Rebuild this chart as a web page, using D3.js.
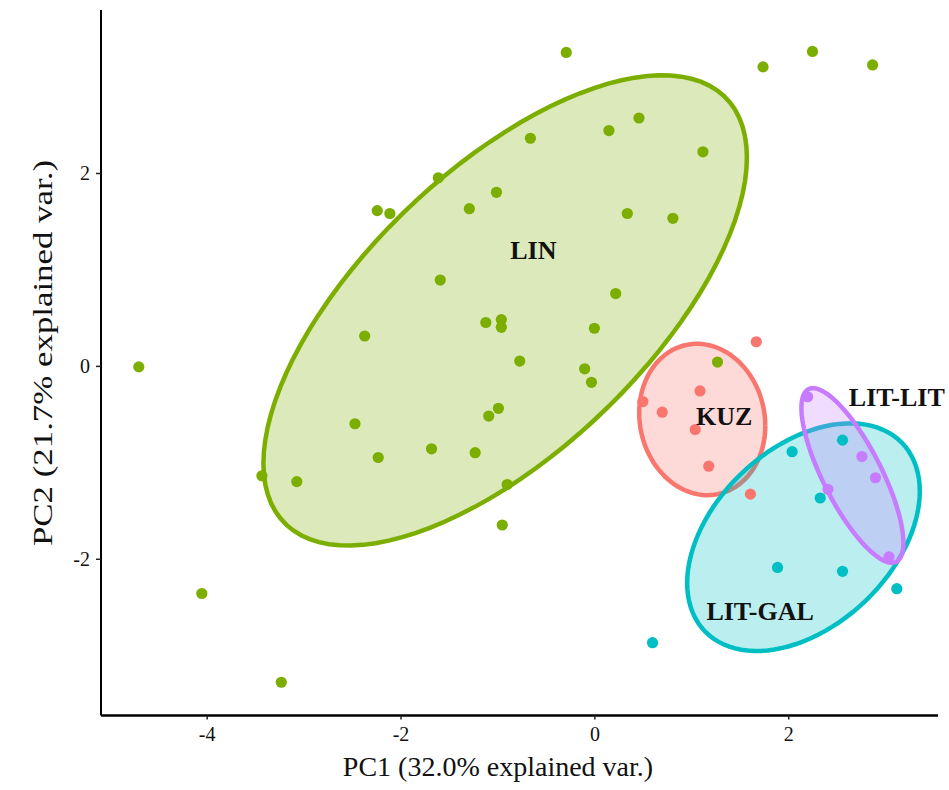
<!DOCTYPE html>
<html>
<head>
<meta charset="utf-8">
<script src="https://cdn.jsdelivr.net/npm/d3@7"></script>
<style>
  body { margin: 0; background: #fff; }
  svg { display: block; }
  text { font-family: "Liberation Serif", "Times New Roman", serif; }
</style>
</head>
<body>
<svg id="chart" width="949" height="790"></svg>
<script>
// PCA scores (PC1, PC2) by population
const groups = ["KUZ", "LIN", "LIT-GAL", "LIT-LIT"];
const colors = ["#F8766D", "#7CAE00", "#00BFC4", "#C77CFF"];

const linPC1 = [-0.29, 1.74, 2.25, 2.87, -0.66, 0.15, 0.46, 1.12, -1.61, -1.01, -2.24, -2.11, -1.29, 0.34, 0.81,
                -1.59, 0.22, -1.12, -0.96, -0.96, 0.00, -2.37, -0.77, -0.10, -0.03, -4.70, 1.27, -0.99, -1.09,
                -2.47, -1.68, -2.23, -1.23, -3.43, -3.07, -0.90, -0.95, -4.05, -3.23];
const linPC2 = [3.25, 3.10, 3.26, 3.12, 2.36, 2.44, 2.57, 2.22, 1.95, 1.80, 1.61, 1.58, 1.63, 1.58, 1.53,
                0.89, 0.75, 0.45, 0.48, 0.40, 0.39, 0.31, 0.05, -0.03, -0.17, -0.01, 0.04, -0.44, -0.52,
                -0.60, -0.86, -0.95, -0.90, -1.14, -1.20, -1.23, -1.65, -2.36, -3.28];

const kuzPC1 = [1.67, 1.09, 0.50, 0.70, 1.04, 1.18, 1.61];
const kuzPC2 = [0.25, -0.26, -0.37, -0.48, -0.66, -1.04, -1.33];

const galPC1 = [2.56, 2.04, 2.33, 1.89, 2.56, 3.12, 0.60];
const galPC2 = [-0.77, -0.89, -1.37, -2.09, -2.13, -2.31, -2.87];

const litPC1 = [2.20, 2.76, 2.90, 2.41, 3.04];
const litPC2 = [-0.32, -0.94, -1.16, -1.28, -1.98];

// label anchor positions in PC space
const labelPC1 = [1.34, -0.63, 1.71, 3.12];
const labelPC2 = [-0.52, 1.20, -2.55, -0.33];

const xTicks = [-4, -2, 0, 2];
const yTicks = [-2, 0, 2];
const xTitle = "PC1 (32.0% explained var.)";
const yTitle = "PC2 (21.7% explained var.)";

const ellipseProb = 0.68;

const svg = d3.select("#chart");
const x = d3.scaleLinear().domain([-5.09, 3.545]).range([101, 938]);
const y = d3.scaleLinear().domain([-3.625, 3.69]).range([715.5, 10]);

const series = [
  { g: "KUZ", xs: kuzPC1, ys: kuzPC2 },
  { g: "LIN", xs: linPC1, ys: linPC2 },
  { g: "LIT-GAL", xs: galPC1, ys: galPC2 },
  { g: "LIT-LIT", xs: litPC1, ys: litPC2 }
];
const color = d3.scaleOrdinal().domain(groups).range(colors);

// normal-theory data ellipse (covariance, chi-square radius)
function ellipse(xs, ys, prob) {
  const n = xs.length;
  const mx = d3.mean(xs), my = d3.mean(ys);
  let sxx = 0, syy = 0, sxy = 0;
  for (let i = 0; i < n; i++) {
    sxx += (xs[i] - mx) ** 2;
    syy += (ys[i] - my) ** 2;
    sxy += (xs[i] - mx) * (ys[i] - my);
  }
  sxx /= n - 1; syy /= n - 1; sxy /= n - 1;
  // Cholesky (upper) of the covariance
  const a = Math.sqrt(sxx), b = sxy / a, c = Math.sqrt(syy - b * b);
  const r = Math.sqrt(-2 * Math.log(1 - prob));
  return d3.range(0, 101).map(i => {
    const t = 2 * Math.PI * i / 100;
    const u = Math.cos(t), v = Math.sin(t);
    return [mx + r * (u * a), my + r * (u * b + v * c)];
  });
}

const line = d3.line().x(d => x(d[0])).y(d => y(d[1]));

// ellipses
series.forEach(s => {
  svg.append("path")
    .datum(ellipse(s.xs, s.ys, ellipseProb))
    .attr("d", line)
    .attr("fill", color(s.g))
    .attr("fill-opacity", 0.27)
    .attr("stroke", color(s.g))
    .attr("stroke-width", 4.5);
});

// points
series.forEach(s => {
  svg.append("g").selectAll("circle")
    .data(s.xs.map((v, i) => [v, s.ys[i]]))
    .join("circle")
    .attr("cx", d => x(d[0]))
    .attr("cy", d => y(d[1]))
    .attr("r", 5.6)
    .attr("fill", color(s.g));
});

// group labels
svg.append("g").selectAll("text")
  .data(groups)
  .join("text")
  .attr("x", (d, i) => x(labelPC1[i]))
  .attr("y", (d, i) => y(labelPC2[i]))
  .attr("text-anchor", "middle")
  .attr("dominant-baseline", "central")
  .attr("font-weight", "bold")
  .attr("font-size", 26)
  .attr("fill", "#111")
  .text(d => d);

// axes
const xAxis = svg.append("g")
  .attr("transform", `translate(0,${y.range()[0]})`)
  .call(d3.axisBottom(x).tickValues(xTicks).tickSize(4).tickPadding(7).tickFormat(d => String(d)));
xAxis.select(".domain").attr("d", `M${x.range()[0]},0H${x.range()[1]}`).attr("stroke", "#000").attr("stroke-width", 2.5);

const yAxis = svg.append("g")
  .attr("transform", `translate(${x.range()[0]},0)`)
  .call(d3.axisLeft(y).tickValues(yTicks).tickSize(5).tickPadding(6).tickFormat(d => String(d)));
yAxis.select(".domain").attr("d", `M0,${y.range()[1]}V${y.range()[0]}`).attr("stroke", "#000").attr("stroke-width", 2);

[xAxis, yAxis].forEach(a => {
  a.attr("font-size", 20).attr("font-family", "Liberation Serif, serif");
  a.selectAll(".tick line").attr("stroke", "#222").attr("stroke-width", 1.5);
  a.selectAll(".tick text").attr("fill", "#111");
});

svg.append("text")
  .attr("x", 498).attr("y", 776)
  .attr("text-anchor", "middle")
  .attr("font-size", 28)
  .attr("fill", "#111")
  .text(xTitle);

svg.append("text")
  .attr("transform", "translate(52,353) rotate(-90)")
  .attr("text-anchor", "middle")
  .attr("font-size", 28)
  .attr("textLength", 386)
  .attr("lengthAdjust", "spacingAndGlyphs")
  .attr("fill", "#111")
  .text(yTitle);
</script>
</body>
</html>
